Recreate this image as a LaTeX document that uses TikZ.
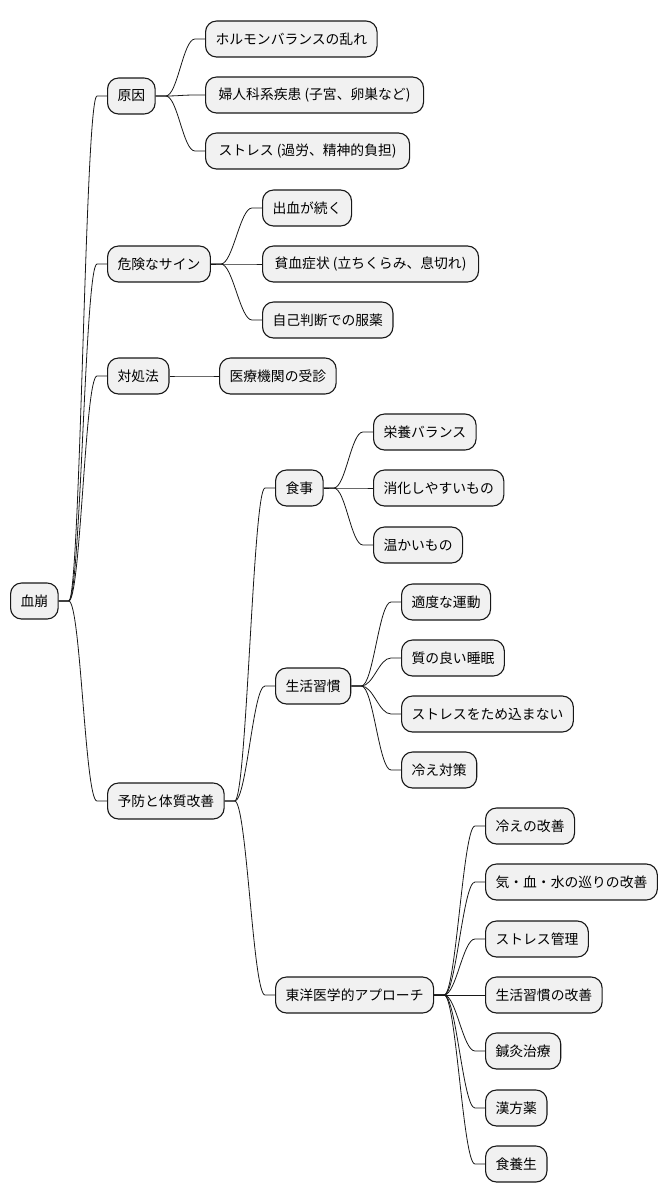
\documentclass[tikz,border=0pt]{standalone}
\usepackage{fontspec}
\setmainfont{Noto Sans CJK JP}
\usetikzlibrary{calc}
\definecolor{boxfill}{HTML}{F1F1F1}
\definecolor{boxline}{HTML}{181818}
\newcommand\mmlink[2]{\draw[conn] let \p1=(#1.east), \p2=(#2.west) in (\p1) -- (\x1+10pt,\y1) .. controls (\x1+22pt,\y1) and (\x2-22pt,\y2) .. (\x2-10pt,\y2) -- (\p2);}
\begin{document}
\begin{tikzpicture}[x=1pt,y=-1pt,
  box/.style={draw=boxline, fill=boxfill, line width=1.1pt, rounded corners=11pt, minimum height=36pt, inner xsep=10pt, inner ysep=0pt, anchor=west, font=\fontsize{13.8}{16}\selectfont},
  conn/.style={draw=boxline, line width=0.8pt}]
\useasboundingbox (0,0) rectangle (670,1203);
\node[box] (root) at (10,601) {血崩};
\node[box] (c1) at (107,96) {原因};
\node[box] (c11) at (205,39) {ホルモンバランスの乱れ};
\node[box, minimum width=218pt] (c12) at (205,95) {婦人科系疾患 (子宮、卵巣など)};
\node[box, minimum width=204pt] (c13) at (205,151) {ストレス (過労、精神的負担)};
\node[box] (c2) at (107,264) {危険なサイン};
\node[box] (c21) at (262,208) {出血が続く};
\node[box, minimum width=216pt] (c22) at (262,264) {貧血症状 (立ちくらみ、息切れ)};
\node[box] (c23) at (262,320) {自己判断での服薬};
\node[box] (c3) at (107,376) {対処法};
\node[box] (c31) at (219,376) {医療機関の受診};
\node[box] (c4) at (107,801) {予防と体質改善};
\node[box] (d1) at (275,488) {食事};
\node[box] (d11) at (373,432) {栄養バランス};
\node[box] (d12) at (373,488) {消化しやすいもの};
\node[box] (d13) at (373,545) {温かいもの};
\node[box] (d2) at (275,686) {生活習慣};
\node[box] (d21) at (401,602) {適度な運動};
\node[box] (d22) at (401,658) {質の良い睡眠};
\node[box] (d23) at (401,714) {ストレスをため込まない};
\node[box] (d24) at (401,770) {冷え対策};
\node[box] (d3) at (275,995) {東洋医学的アプローチ};
\node[box] (d31) at (485,826) {冷えの改善};
\node[box] (d32) at (485,882) {気・血・水の巡りの改善};
\node[box] (d33) at (485,939) {ストレス管理};
\node[box] (d34) at (485,995) {生活習慣の改善};
\node[box] (d35) at (485,1051) {鍼灸治療};
\node[box] (d36) at (485,1108) {漢方薬};
\node[box] (d37) at (485,1164) {食養生};
\mmlink{root}{c1}\mmlink{root}{c2}\mmlink{root}{c3}\mmlink{root}{c4}
\mmlink{c1}{c11}\mmlink{c1}{c12}\mmlink{c1}{c13}
\mmlink{c2}{c21}\mmlink{c2}{c22}\mmlink{c2}{c23}
\mmlink{c3}{c31}
\mmlink{c4}{d1}\mmlink{c4}{d2}\mmlink{c4}{d3}
\mmlink{d1}{d11}\mmlink{d1}{d12}\mmlink{d1}{d13}
\mmlink{d2}{d21}\mmlink{d2}{d22}\mmlink{d2}{d23}\mmlink{d2}{d24}
\mmlink{d3}{d31}\mmlink{d3}{d32}\mmlink{d3}{d33}\mmlink{d3}{d34}\mmlink{d3}{d35}\mmlink{d3}{d36}\mmlink{d3}{d37}
\end{tikzpicture}
\end{document}
